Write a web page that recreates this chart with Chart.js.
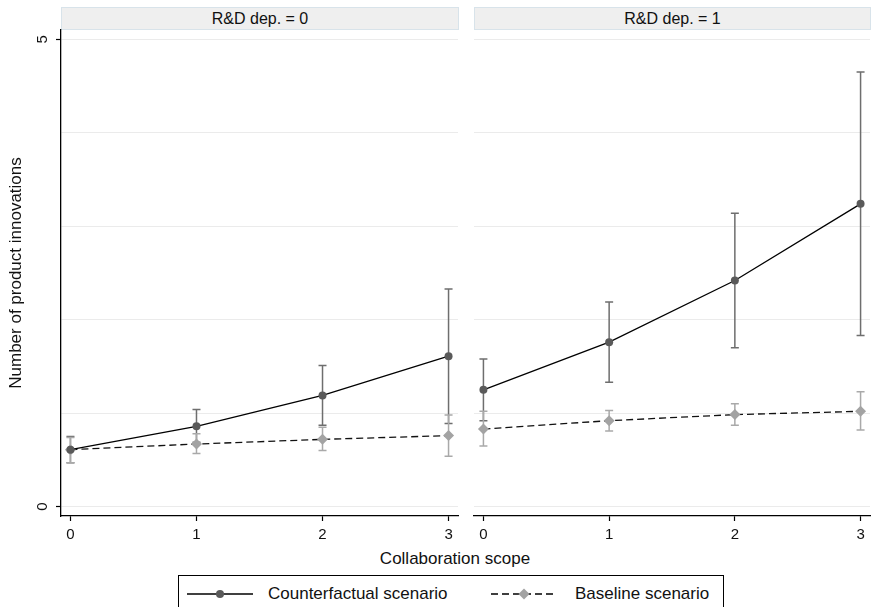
<!DOCTYPE html>
<html><head><meta charset="utf-8">
<script src="https://cdn.jsdelivr.net/npm/chart.js@4/dist/chart.umd.min.js"></script>
<style>
body{margin:0;background:#fff;width:872px;height:607px;overflow:hidden;position:relative;font-family:"Liberation Sans",Arial,sans-serif;color:#111;}
.strip{position:absolute;top:7px;height:21px;background:#efefef;border:1px solid #d8e3ea;text-align:center;font-size:16px;line-height:21px;}
canvas{position:absolute;top:0;}
#xtitle{position:absolute;left:305px;width:300px;top:549px;text-align:center;font-size:17px;line-height:20px;}
#legend{position:absolute;left:178px;top:575px;width:546px;height:40px;border:1px solid #000;box-sizing:border-box;}
.lg{position:absolute;top:8px;font-size:17px;line-height:20px;white-space:nowrap;}
svg{position:absolute;}
</style>
</head><body>
<div class="strip" id="s0" style="left:61px;width:396px;"></div>
<div class="strip" id="s1" style="left:474px;width:395px;"></div>
<canvas id="c0" width="470" height="548" style="left:0;width:470px;height:548px;"></canvas>
<canvas id="c1" width="422" height="548" style="left:460px;width:422px;height:548px;"></canvas>
<div id="xtitle"></div>
<div id="legend">
  <svg style="left:8px;top:7px" width="68" height="22"><line x1="0" y1="11" x2="66" y2="11" stroke="#000" stroke-width="1.4"/><circle cx="33" cy="11" r="4" fill="#5a5a5a"/></svg>
  <div class="lg" id="lg0" style="left:89px"></div>
  <svg style="left:312px;top:7px" width="68" height="22"><line x1="0" y1="11" x2="66" y2="11" stroke="#000" stroke-width="1.4" stroke-dasharray="7,4"/><polygon points="33,5.5 38.5,11 33,16.5 27.5,11" fill="#a3a3a3"/></svg>
  <div class="lg" id="lg1" style="left:396px"></div>
</div>
<script>
// ---- data ----
const scopes = [0, 1, 2, 3];
const panelTitles = ['R&D dep. = 0', 'R&D dep. = 1'];
const seriesNames = ['Counterfactual scenario', 'Baseline scenario'];
const axisTitleX = 'Collaboration scope';
const axisTitleY = 'Number of product innovations';
const yTickLabels = [0, 5];

// R&D dep. = 0
const cf0   = [0.61, 0.86, 1.19, 1.61];
const cf0Lo = [0.47, 0.69, 0.87, 0.89];
const cf0Hi = [0.75, 1.04, 1.51, 2.33];
const bl0   = [0.61, 0.67, 0.72, 0.76];
const bl0Lo = [0.47, 0.57, 0.60, 0.54];
const bl0Hi = [0.74, 0.78, 0.85, 0.98];
// R&D dep. = 1
const cf1   = [1.25, 1.76, 2.42, 3.24];
const cf1Lo = [0.92, 1.33, 1.70, 1.83];
const cf1Hi = [1.58, 2.19, 3.14, 4.65];
const bl1   = [0.83, 0.92, 0.985, 1.02];
const bl1Lo = [0.65, 0.81, 0.87, 0.82];
const bl1Hi = [1.02, 1.03, 1.10, 1.23];

document.getElementById('s0').textContent = panelTitles[0];
document.getElementById('s1').textContent = panelTitles[1];
document.getElementById('xtitle').textContent = axisTitleX;
document.getElementById('lg0').textContent = seriesNames[0];
document.getElementById('lg1').textContent = seriesNames[1];

const FONT = "'Liberation Sans', Arial, sans-serif";

const errBars = {
  id: 'errBars',
  beforeDatasetsDraw(chart) {
    const {ctx, scales: {x, y}} = chart;
    chart.data.datasets.forEach(ds => {
      ds.lo.forEach((lo, i) => {
        const hi = ds.hi[i];
        const px = x.getPixelForValue(ds.data[i].x);
        const pl = y.getPixelForValue(lo), ph = y.getPixelForValue(hi);
        ctx.save();
        ctx.strokeStyle = ds.errColor;
        ctx.lineWidth = 1.5;
        ctx.beginPath();
        ctx.moveTo(px, pl); ctx.lineTo(px, ph);
        ctx.moveTo(px - 4, pl); ctx.lineTo(px + 4, pl);
        ctx.moveTo(px - 4, ph); ctx.lineTo(px + 4, ph);
        ctx.stroke();
        ctx.restore();
      });
    });
  }
};

function pts(vals) { return scopes.map((s, i) => ({x: s, y: vals[i]})); }

function makeChart(id, cf, cfLo, cfHi, bl, blLo, blHi, showY) {
  return new Chart(document.getElementById(id), {
    type: 'line',
    data: {
      datasets: [
        { label: seriesNames[0], data: pts(cf), lo: cfLo, hi: cfHi, errColor: '#6e6e6e',
          borderColor: '#000', borderWidth: 1.3, pointStyle: 'circle', pointRadius: 4,
          pointBackgroundColor: '#5a5a5a', pointBorderColor: '#5a5a5a', pointBorderWidth: 0, tension: 0 },
        { label: seriesNames[1], data: pts(bl), lo: blLo, hi: blHi, errColor: '#a9a9a9',
          borderColor: '#111', borderWidth: 1.3, borderDash: [7, 4], pointStyle: 'rectRot', pointRadius: 5.5,
          pointBackgroundColor: '#a3a3a3', pointBorderColor: '#a3a3a3', pointBorderWidth: 0, tension: 0 }
      ]
    },
    options: {
      responsive: false, animation: false, devicePixelRatio: 1,
      layout: { padding: { top: 30, right: 12, left: showY ? 0 : 14, bottom: 0 } },
      plugins: { legend: { display: false }, tooltip: { enabled: false } },
      scales: {
        x: {
          type: 'linear', min: -0.075, max: 3.075,
          afterBuildTicks: s => { s.ticks = scopes.map(v => ({value: v})); },
          afterFit: s => { s.height = 32; },
          border: { display: true, color: '#000', width: 1.3 },
          grid: { drawOnChartArea: false, drawTicks: true, tickLength: 5, tickColor: '#000', tickWidth: 1.2 },
          ticks: { font: { family: FONT, size: 15 }, color: '#111', padding: 5, maxRotation: 0, callback: v => String(v) }
        },
        y: {
          type: 'linear', min: -0.1, max: 5.1,
          afterBuildTicks: s => { s.ticks = [0, 1, 2, 3, 4, 5].map(v => ({value: v})); },
          afterFit: s => { s.width = showY ? 61 : 0; },
          border: { display: showY, color: '#000', width: 1.3 },
          grid: { color: '#ebebeb', lineWidth: 1, drawTicks: showY, tickLength: 5, tickWidth: 1.2,
                  tickColor: c => (c.tick && yTickLabels.includes(c.tick.value)) ? '#000' : 'rgba(0,0,0,0)' },
          ticks: { display: showY, font: { family: FONT, size: 15 }, color: '#111', padding: 9,
                   minRotation: 90, maxRotation: 90, crossAlign: 'center',
                   callback: v => yTickLabels.includes(v) ? String(v) : '' },
          title: { display: showY, text: axisTitleY, font: { family: FONT, size: 17 }, color: '#111',
                   padding: { top: 6, bottom: 0 } }
        }
      }
    },
    plugins: [errBars]
  });
}

makeChart('c0', cf0, cf0Lo, cf0Hi, bl0, bl0Lo, bl0Hi, true);
makeChart('c1', cf1, cf1Lo, cf1Hi, bl1, bl1Lo, bl1Hi, false);
</script>
</body></html>
